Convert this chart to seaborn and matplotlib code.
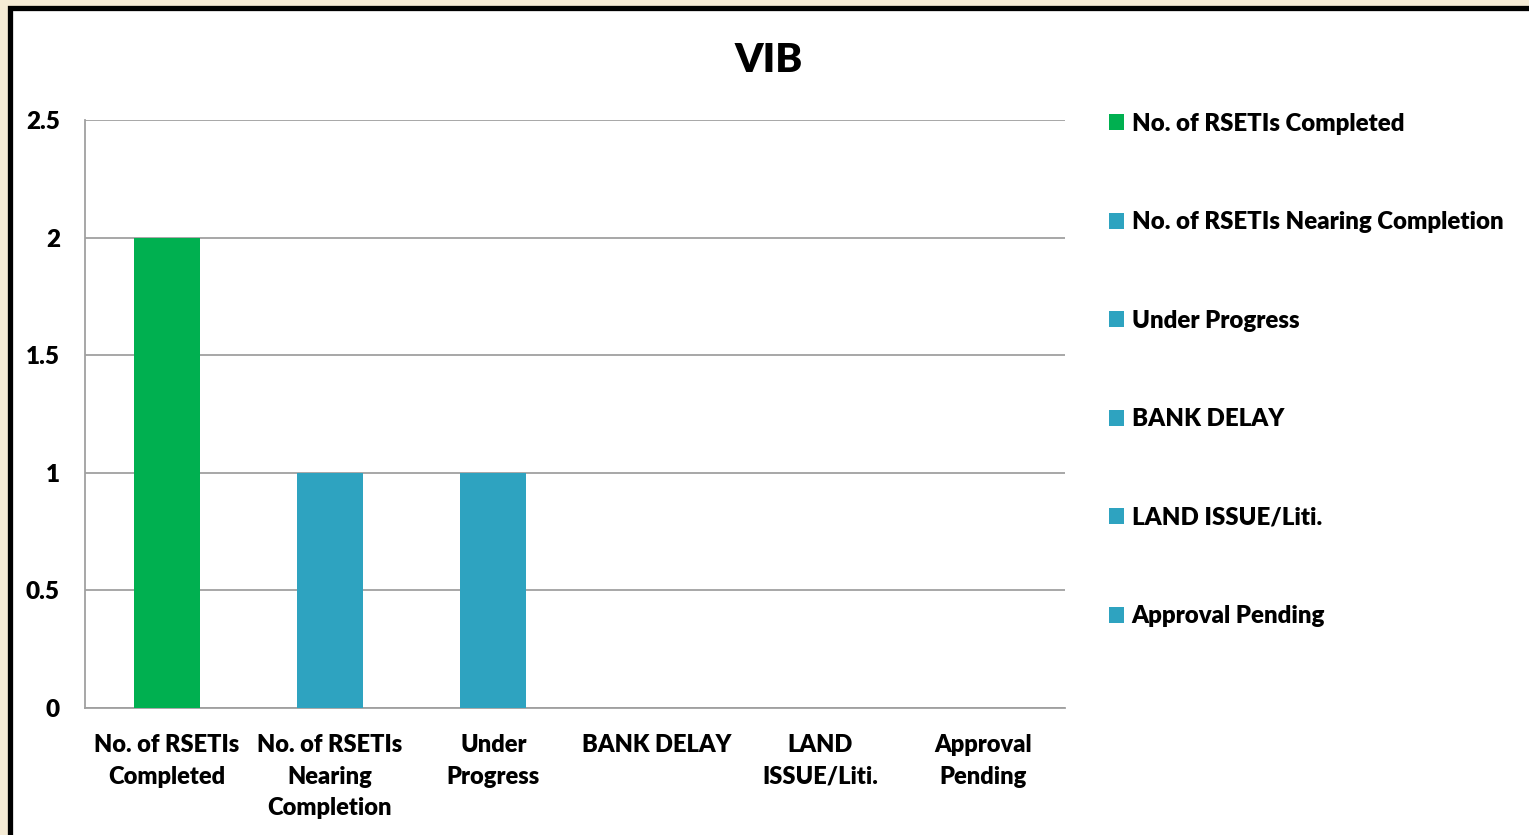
import numpy as np
import pandas as pd
import matplotlib
matplotlib.use('Agg')
import matplotlib.pyplot as plt
from matplotlib.patches import Patch, Rectangle
import seaborn as sns

categories = ['No. of RSETIs Completed', 'No. of RSETIs Nearing Completion',
              'Under Progress', 'BANK DELAY', 'LAND ISSUE/Liti.', 'Approval Pending']
tick_labels = ['No. of RSETIs\nCompleted', 'No. of RSETIs\nNearing\nCompletion',
               'Under\nProgress', 'BANK DELAY', 'LAND\nISSUE/Liti.', 'Approval\nPending']
values = [2, 1, 1, 0, 0, 0]
colors = ['#00B050', '#2EA3C0', '#2EA3C0', '#2EA3C0', '#2EA3C0', '#2EA3C0']
y_ticks = [0, 0.5, 1, 1.5, 2, 2.5]
y_tick_labels = ['0', '0.5', '1', '1.5', '2', '2.5']

sns.set_style('white')
plt.rcParams['font.family'] = ['Lato', 'DejaVu Sans']
plt.rcParams['font.weight'] = 'heavy'
plt.rcParams['text.color'] = 'black'
plt.rcParams['xtick.color'] = 'black'
plt.rcParams['ytick.color'] = 'black'

W, H = 1529, 835
fig = plt.figure(figsize=(W / 100, H / 100), dpi=100, facecolor='#F5EBD5')

# white card with black frame, behind the axes
fig.patches.append(Rectangle((9.5 / W, -0.05), 1.1, 1 - 7.5 / H + 0.05,
                             transform=fig.transFigure, facecolor='white',
                             edgecolor='black', linewidth=3.8, zorder=-5))

ax = fig.add_axes([85 / W, 1 - 708 / H, (1065 - 85) / W, (708 - 120) / H])
ax.set_facecolor('none')
ax.set_zorder(2)

df = pd.DataFrame({'category': categories, 'value': values})
sns.barplot(data=df, x='category', y='value', hue='category',
            palette=colors, width=0.405, dodge=False, legend=False, ax=ax,
            saturation=1, linewidth=0, zorder=3)

ax.set_ylim(0, 2.5)
ax.set_xlim(-0.5, len(categories) - 0.5)
ax.set_yticks(y_ticks)
ax.set_yticklabels(y_tick_labels)
ax.yaxis.grid(True, color='#A0A0A0', linewidth=1.3, zorder=0)
ax.set_axisbelow(True)

ax.set_xticks(range(len(categories)))
ax.set_xticklabels(tick_labels)
ax.set_xticks(np.arange(-0.5, len(categories)), minor=True)
ax.tick_params(axis='x', which='major', length=0, pad=18.5)
ax.tick_params(axis='x', which='minor', length=5, width=1.3, color='#A0A0A0', direction='out')
ax.tick_params(axis='y', length=5.5, width=1.3, color='#A0A0A0', labelcolor='black',
               pad=12.5, direction='out')

for lab in ax.get_xticklabels():
    lab.set_fontsize(17)
    lab.set_fontweight('heavy')
    lab.set_linespacing(1.55)
for lab in ax.get_yticklabels():
    lab.set_fontsize(17.5)
    lab.set_fontweight('heavy')

for side in ['top', 'right']:
    ax.spines[side].set_visible(False)
for side in ['left', 'bottom']:
    ax.spines[side].set_color('#A0A0A0')
    ax.spines[side].set_linewidth(1.3)
ax.set_xlabel('')
ax.set_ylabel('')

fig.text(769 / W, 1 - 60 / H, 'VIB', ha='center', va='center',
         fontsize=29, fontweight='heavy', color='black')

handles = [Patch(facecolor=c, edgecolor='none') for c in colors]
fig.legend(handles, categories, loc='upper left',
           bbox_to_anchor=(1099 / W, 1 - 103 / H), frameon=False,
           prop={'weight': 'heavy', 'size': 17.3},
           handlelength=0.66, handleheight=0.66, handletextpad=0.3,
           labelspacing=3.185, borderaxespad=0)

fig.savefig('out.png', dpi=100, facecolor=fig.get_facecolor())
